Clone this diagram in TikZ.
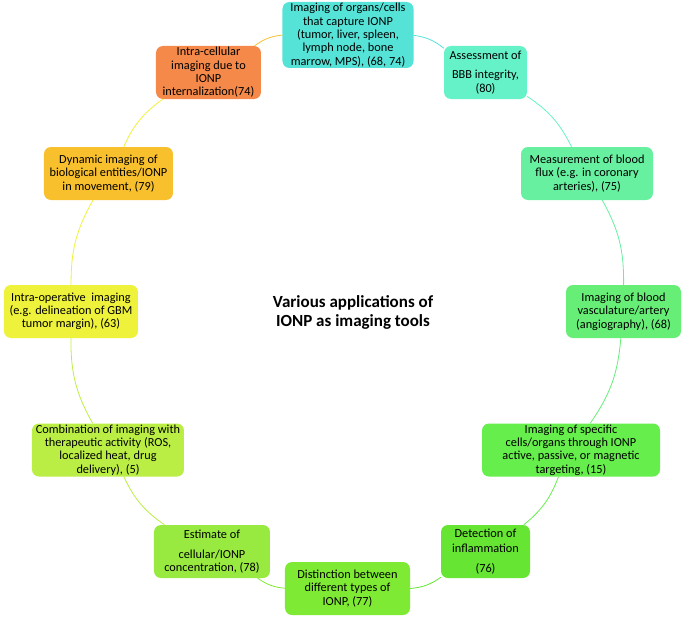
\documentclass[tikz,border=0pt]{standalone}
\usepackage{fontspec}
\setmainfont{Carlito}
\definecolor{cOne}{HTML}{55E3D8}
\definecolor{cTwo}{HTML}{66F2C8}
\definecolor{cThree}{HTML}{66F0A0}
\definecolor{cFour}{HTML}{66EE77}
\definecolor{cFive}{HTML}{66EE4D}
\definecolor{cSix}{HTML}{66E633}
\definecolor{cSeven}{HTML}{7FEA33}
\definecolor{cEight}{HTML}{99EA40}
\definecolor{cNine}{HTML}{BBEE44}
\definecolor{cTen}{HTML}{EEF23A}
\definecolor{cEleven}{HTML}{F9C02E}
\definecolor{cTwelve}{HTML}{F5894A}
\tikzset{
  app/.style={fill=#1, rounded corners=7pt, align=center, inner sep=1pt,
    minimum height=53pt, font=\fontsize{12.3}{13.3}\selectfont},
  link/.style={draw=#1, line width=0.8pt}
}
\begin{document}
\begin{tikzpicture}[x=1pt, y=1pt]
  \useasboundingbox (-345,-307) rectangle (340,312);
  % title in the middle
  \node[align=center, font=\fontsize{17}{19}\selectfont\bfseries] (title) at (8,0)
    {Various applications of\\IONP as imaging tools};
  % the twelve applications, clockwise from the top
  \node[app=cOne, minimum width=131pt, minimum height=66pt] (organs) at (3,277)
    {Imaging of organs/cells\\that capture IONP\\(tumor, liver, spleen,\\lymph node, bone\\marrow, MPS), (68, 74)};
  \node[app=cTwo, minimum width=83pt] (bbb) at (140.5,239.5)
    {Assessment of\\[6pt]BBB integrity,\\(80)};
  \node[app=cThree, minimum width=132pt] (flux) at (242,138.5)
    {Measurement of blood\\flux (e.g. in coronary\\arteries), (75)};
  \node[app=cFour, minimum width=115pt] (angio) at (278.5,0.5)
    {Imaging of blood\\vasculature/artery\\(angiography), (68)};
  \node[app=cFive, minimum width=178pt] (target) at (226,-138)
    {Imaging of specific\\cells/organs through IONP\\active, passive, or magnetic\\targeting, (15)};
  \node[app=cSix, minimum width=89pt] (inflam) at (140.5,-239.5)
    {Detection of\\[2pt]inflammation\\[6pt](76)};
  \node[app=cSeven, minimum width=125pt] (types) at (2.5,-276.5)
    {Distinction between\\different types of\\IONP, (77)};
  \node[app=cEight, minimum width=116pt] (conc) at (-133,-239.5)
    {Estimate of\\[7pt]cellular/IONP\\concentration, (78)};
  \node[app=cNine, minimum width=152pt] (thera) at (-237,-138)
    {Combination of imaging with\\therapeutic activity (ROS,\\localized heat, drug\\delivery), (5)};
  \node[app=cTen, minimum width=134pt] (intraop) at (-274,0.5)
    {Intra-operative\ \ imaging\\(e.g. delineation of GBM\\tumor margin), (63)};
  \node[app=cEleven, minimum width=129pt] (dynamic) at (-236.5,138.5)
    {Dynamic imaging of\\biological entities/IONP\\in movement, (79)};
  \node[app=cTwelve, minimum width=105pt] (intracell) at (-136.5,239.5)
    {Intra-cellular\\imaging due to\\IONP\\internalization(74)};
  % arcs of the ring
  \draw[link=cOne] (organs) to[bend left=15] (bbb);
  \draw[link=cTwo] (bbb) to[bend left=15] (flux);
  \draw[link=cThree] (flux) to[bend left=15] (angio);
  \draw[link=cFour] (angio) to[bend left=15] (target);
  \draw[link=cFive] (target) to[bend left=15] (inflam);
  \draw[link=cSix] (inflam) to[bend left=15] (types);
  \draw[link=cSeven] (types) to[bend left=15] (conc);
  \draw[link=cNine] (conc) to[bend left=15] (thera);
  \draw[link=cNine] (thera) to[bend left=15] (intraop);
  \draw[link=cTen] (intraop) to[bend left=15] (dynamic);
  \draw[link=cTen] (dynamic) to[bend left=15] (intracell);
  \draw[link=cEleven] (intracell) to[bend left=15] (organs);
\end{tikzpicture}
\end{document}
